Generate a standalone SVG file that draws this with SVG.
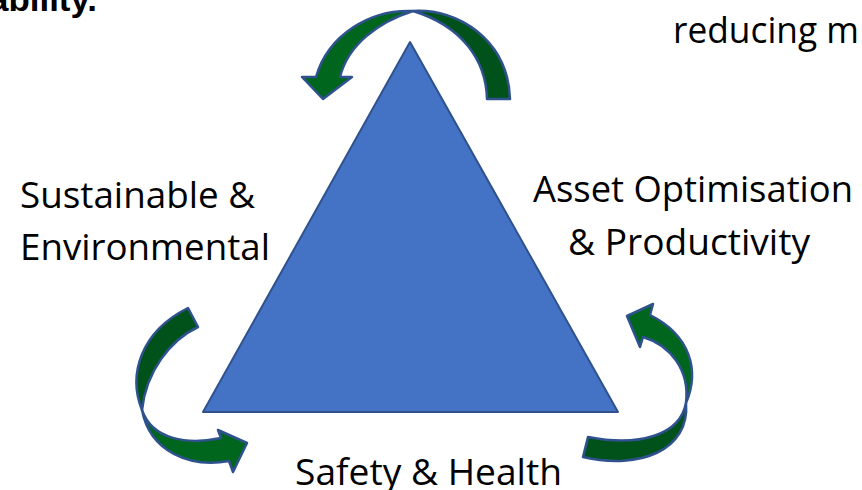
<svg xmlns="http://www.w3.org/2000/svg" width="862" height="490" viewBox="0 0 862 490">
<style>
.lbl{font-family:"Open Sans","Noto Sans","Liberation Sans",sans-serif;font-size:36px;fill:#000}
.bold{font-family:"Liberation Sans","DejaVu Sans",sans-serif;font-weight:bold;font-size:34px;fill:#000}
.light{fill:#00661E;stroke:#2F528F;stroke-width:2.5;stroke-linejoin:round}
.dark{fill:#00521A;stroke:#2F528F;stroke-width:2.5;stroke-linejoin:round}
.tri{fill:#4472C4;stroke:#2F528F;stroke-width:2;stroke-linejoin:round}
</style>
<rect width="862" height="490" fill="#fff"/>
<g id="top-text">
<text class="bold" x="-11" y="11" textLength="108" lengthAdjust="spacingAndGlyphs">ability.</text>
<text class="lbl" x="673" y="43" textLength="186" lengthAdjust="spacingAndGlyphs">reducing m</text>
</g>
<g id="triangle">
<polygon class="tri" points="410,42 618,412 203,412"/>
</g>
<g id="connectors">
<g id="arrow-top">
<path class="dark" d="M413,11 C458,8 508,40 510,99 L487,99 C486,60 462,26 413,11 Z"/>
<path class="light" d="M413,11 C370,9 328,35 316,77 L302,77 L323,99 L352,77 L340,77 C348,45 378,22 413,11 Z"/>
</g>
<g id="arrow-left">
<path class="dark" d="M188,308 L198,327 C170,340 146,372 142,410 C128,375 140,332 188,308 Z"/>
<path class="light" d="M142,410 C152,440 188,445 221,438 L218,430 L247,443 L233,472 L229,461 C190,468 150,452 142,410 Z"/>
</g>
<g id="arrow-right">
<path class="dark" d="M686,403 C680,435 640,447 588,437 L583,457 C640,470 690,450 686,403 Z"/>
<path class="light" d="M686,403 C700,370 690,335 650,315 L653,304 L627,316 L640,347 L643,337 C670,345 690,370 686,403 Z"/>
</g>
</g>
<g id="label-sustainable">
<text class="lbl" x="20" y="208" textLength="235" lengthAdjust="spacingAndGlyphs">Sustainable &amp;</text>
<text class="lbl" x="20" y="260" textLength="250" lengthAdjust="spacingAndGlyphs">Environmental</text>
</g>
<g id="label-asset">
<text class="lbl" x="533" y="202" textLength="320" lengthAdjust="spacingAndGlyphs">Asset Optimisation</text>
<text class="lbl" x="568" y="255" textLength="242" lengthAdjust="spacingAndGlyphs">&amp; Productivity</text>
</g>
<g id="label-safety">
<text class="lbl" x="295" y="485" textLength="267" lengthAdjust="spacingAndGlyphs">Safety &amp; Health</text>
</g>
</svg>
